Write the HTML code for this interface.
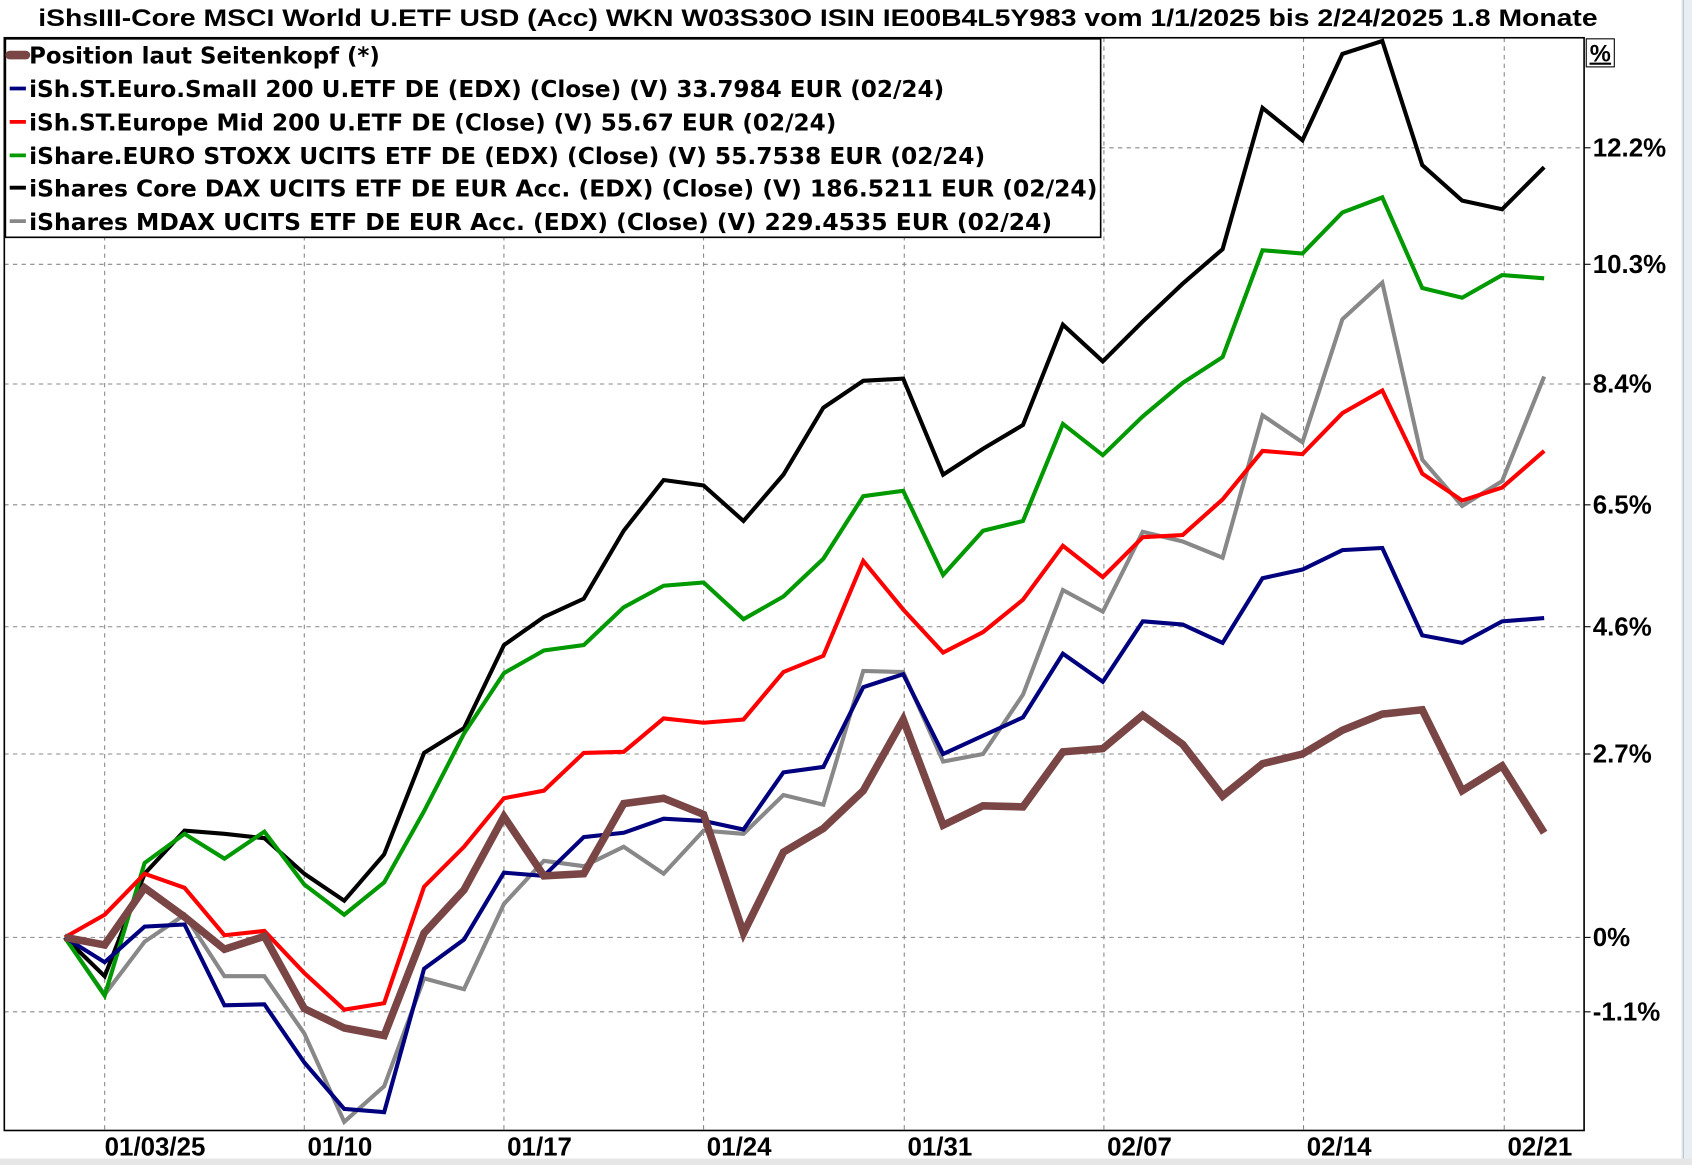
<!DOCTYPE html>
<html><head><meta charset="utf-8"><style>
html,body{margin:0;padding:0;background:#fff;}
svg{display:block;}
text{font-family:"DejaVu Sans","Liberation Sans",sans-serif;font-weight:bold;fill:#000;}
text.a{font-family:"Liberation Sans",sans-serif;}
</style></head><body>
<svg width="1692" height="1165" viewBox="0 0 1568 1080" preserveAspectRatio="none" xmlns="http://www.w3.org/2000/svg">
<rect x="0" y="0" width="1568" height="1080" fill="#fff"/>
<rect x="1558" y="0" width="10" height="1080" fill="#e8eef2"/>
<line x1="1560" y1="0" x2="1560" y2="1080" stroke="#b8c4cc" stroke-width="1"/>
<rect x="0" y="1074" width="1568" height="6" fill="#e6e6e6"/>
<text class="a" x="758" y="24" text-anchor="middle" font-size="22" textLength="1445" lengthAdjust="spacingAndGlyphs">iShsIII-Core MSCI World U.ETF USD (Acc) WKN W03S30O ISIN IE00B4L5Y983 vom 1/1/2025 bis 2/24/2025 1.8 Monate</text>
<g stroke="#888" stroke-width="1" stroke-dasharray="4,4">
<line x1="4" y1="137" x2="1468" y2="137"/><line x1="4" y1="245" x2="1468" y2="245"/>
<line x1="4" y1="356" x2="1468" y2="356"/><line x1="4" y1="468" x2="1468" y2="468"/>
<line x1="4" y1="581" x2="1468" y2="581"/><line x1="4" y1="699" x2="1468" y2="699"/>
<line x1="4" y1="869" x2="1468" y2="869"/><line x1="4" y1="938" x2="1468" y2="938"/>
<line x1="97" y1="35" x2="97" y2="1048"/><line x1="282" y1="35" x2="282" y2="1048"/>
<line x1="467" y1="35" x2="467" y2="1048"/><line x1="652" y1="35" x2="652" y2="1048"/>
<line x1="838" y1="35" x2="838" y2="1048"/><line x1="1023" y1="35" x2="1023" y2="1048"/>
<line x1="1208" y1="35" x2="1208" y2="1048"/><line x1="1394" y1="35" x2="1394" y2="1048"/>
</g>
<g fill="none" stroke-linejoin="miter" stroke-width="3.8">
<polyline stroke="#888" points="60,869 97,922 134,873 171,848 208,905 245,905 282,958 319,1040 356,1007 393,907 430,917 467,838 504,798 541,803 578,785 615,810 652,770 689,773 726,737 763,746 800,622 837,623 874,706 911,699 948,644 985,547 1022,567 1059,493 1096,502 1133,517 1170,385 1207,410 1244,296 1281,262 1318,426 1355,469 1392,446 1431,349"/>
<polyline stroke="#000" points="60,869 97,905 134,810 171,770 208,773 245,777 282,810 319,835 356,792 393,698 430,675 467,598 504,572 541,555 578,492 615,445 652,450 689,483 726,440 763,378 800,353 837,351 874,440 911,416 948,394 985,301 1022,335 1059,298 1096,263 1133,231 1170,100 1207,130 1244,50 1281,38 1318,153 1355,186 1392,194 1431,155"/>
<polyline stroke="#090" points="60,869 97,923 134,800 171,773 208,796 245,771 282,820 319,848 356,818 393,752 430,680 467,624 504,603 541,598 578,563 615,543 652,540 689,574 726,553 763,518 800,460 837,455 874,533 911,492 948,483 985,393 1022,422 1059,386 1096,355 1133,331 1170,232 1207,235 1244,197 1281,183 1318,267 1355,276 1392,255 1431,258"/>
<polyline stroke="#f00" points="60,869 97,848 134,810 171,823 208,867 245,863 282,902 319,936 356,930 393,822 430,785 467,740 504,733 541,698 578,697 615,666 652,670 689,667 726,623 763,608 800,520 837,565 874,605 911,586 948,556 985,506 1022,535 1059,498 1096,496 1133,463 1170,418 1207,421 1244,383 1281,362 1318,439 1355,464 1392,452 1431,418"/>
<polyline stroke="#00007f" points="60,869 97,892 134,859 171,857 208,932 245,931 282,985 319,1028 356,1031 393,898 430,871 467,809 504,812 541,776 578,772 615,759 652,761 689,769 726,716 763,711 800,637 837,625 874,699 911,682 948,665 985,606 1022,632 1059,576 1096,579 1133,596 1170,536 1207,528 1244,510 1281,508 1318,589 1355,596 1392,576 1431,573"/>
<polyline stroke="#7a4545" stroke-width="7" points="60,869 97,876 134,823 171,850 208,880 245,868 282,935 319,953 356,960 393,865 430,825 467,757 504,812 541,810 578,745 615,740 652,755 689,865 726,790 763,768 800,733 837,667 874,765 911,747 948,748 985,697 1022,694 1059,663 1096,690 1133,738 1170,708 1207,699 1244,677 1281,662 1318,658 1355,733 1392,710 1431,772"/>
</g>
<rect x="4" y="35" width="1464" height="1013" fill="none" stroke="#000" stroke-width="1.5"/>
<g stroke="#000" stroke-width="1">
<line x1="1468" y1="137" x2="1474" y2="137"/><line x1="1468" y1="245" x2="1474" y2="245"/><line x1="1468" y1="356" x2="1474" y2="356"/><line x1="1468" y1="468" x2="1474" y2="468"/><line x1="1468" y1="581" x2="1474" y2="581"/><line x1="1468" y1="699" x2="1474" y2="699"/><line x1="1468" y1="869" x2="1474" y2="869"/><line x1="1468" y1="938" x2="1474" y2="938"/>
</g>
<rect x="1470" y="36" width="26" height="26" fill="#fff" stroke="#000" stroke-width="1"/>
<text class="a" x="1483" y="57" text-anchor="middle" font-size="22">%</text>
<line x1="1473" y1="59" x2="1493" y2="59" stroke="#000" stroke-width="2"/>
<g font-size="24">
<text class="a" x="1476" y="145">12.2%</text><text class="a" x="1476" y="253">10.3%</text><text class="a" x="1476" y="364">8.4%</text><text class="a" x="1476" y="476">6.5%</text><text class="a" x="1476" y="589">4.6%</text><text class="a" x="1476" y="707">2.7%</text><text class="a" x="1476" y="877">0%</text><text class="a" x="1476" y="946">-1.1%</text>
<text class="a" x="97" y="1071">01/03/25</text><text class="a" x="285" y="1071">01/10</text><text class="a" x="470" y="1071">01/17</text><text class="a" x="655" y="1071">01/24</text><text class="a" x="841" y="1071">01/31</text><text class="a" x="1026" y="1071">02/07</text><text class="a" x="1211" y="1071">02/14</text><text class="a" x="1397" y="1071">02/21</text>
</g>
<rect x="5" y="36" width="1015" height="184" fill="#fff" stroke="#000" stroke-width="1.5"/>
<line x1="9" y1="51" x2="24" y2="51" stroke="#7a4545" stroke-width="8" stroke-linecap="round"/>
<line x1="9" y1="82" x2="24" y2="82" stroke="#00007f" stroke-width="3.5"/>
<line x1="9" y1="113" x2="24" y2="113" stroke="#f00" stroke-width="3.5"/>
<line x1="9" y1="144" x2="24" y2="144" stroke="#090" stroke-width="3.5"/>
<line x1="9" y1="174" x2="24" y2="174" stroke="#000" stroke-width="3.5"/>
<line x1="9" y1="205" x2="24" y2="205" stroke="#888" stroke-width="3.5"/>
<g font-size="21">
<text x="27" y="59" textLength="325" lengthAdjust="spacingAndGlyphs">Position laut Seitenkopf (*)</text>
<text x="27" y="90" textLength="848" lengthAdjust="spacingAndGlyphs">iSh.ST.Euro.Small 200 U.ETF DE (EDX) (Close) (V) 33.7984 EUR (02/24)</text>
<text x="27" y="121" textLength="748" lengthAdjust="spacingAndGlyphs">iSh.ST.Europe Mid 200 U.ETF DE (Close) (V) 55.67 EUR (02/24)</text>
<text x="27" y="152" textLength="886" lengthAdjust="spacingAndGlyphs">iShare.EURO STOXX UCITS ETF DE (EDX) (Close) (V) 55.7538 EUR (02/24)</text>
<text x="27" y="182" textLength="990" lengthAdjust="spacingAndGlyphs">iShares Core DAX UCITS ETF DE EUR Acc. (EDX) (Close) (V) 186.5211 EUR (02/24)</text>
<text x="27" y="213" textLength="948" lengthAdjust="spacingAndGlyphs">iShares MDAX UCITS ETF DE EUR Acc. (EDX) (Close) (V) 229.4535 EUR (02/24)</text>
</g>
</svg>
</body></html>
